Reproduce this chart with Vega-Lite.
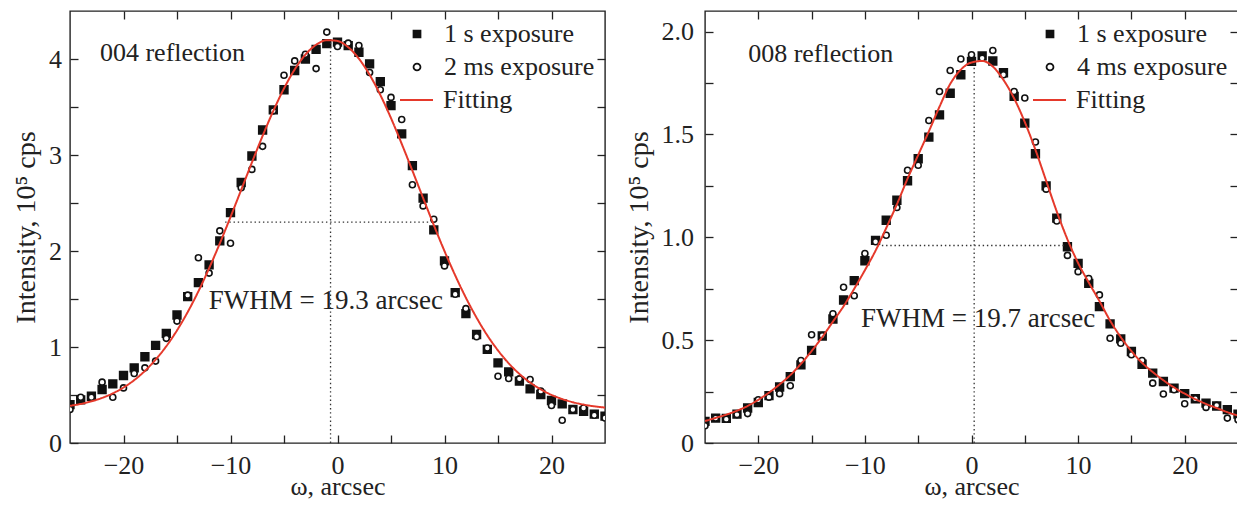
{
  "$schema": "https://vega.github.io/schema/vega-lite/v6.json",
  "background": "white",
  "padding": {"left": 11, "top": 9, "right": 0, "bottom": 0},
  "spacing": 100,
  "bounds": "flush",
  "resolve": {
    "scale": {"shape": "independent", "fill": "independent", "stroke": "independent", "strokeDash": "independent"},
    "legend": {"shape": "independent", "fill": "independent", "stroke": "independent", "strokeDash": "independent"}
  },
  "config": {
    "font": "Liberation Serif",
    "view": {"stroke": "#222", "strokeWidth": 1.4},
    "axis": {
      "grid": false, "domain": false,
      "tickColor": "#222", "tickWidth": 1.3, "tickSize": -8,
      "labelFont": "Liberation Serif", "labelFontSize": 26, "labelColor": "#222",
      "labelFlush": false, "labelOverlap": false,
      "titleFont": "Liberation Serif", "titleFontSize": 26, "titleFontWeight": "normal", "titleColor": "#222"
    },
    "axisLeft": {"titleFontSize": 28},
    "legend": {
      "orient": "top-right", "offset": 10, "padding": 0,
      "labelFont": "Liberation Serif", "labelFontSize": 26, "labelColor": "#222",
      "labelOffset": 5, "symbolStrokeWidth": 1.8, "rowPadding": 7,
      "layout": {"top-right": {"direction": "vertical", "margin": 2.5, "anchor": "start"}}
    }
  },
  "datasets": {
    "lp": [
      {"x": -25, "y": 0.40, "series": "1 s exposure"}, {"x": -24, "y": 0.45, "series": "1 s exposure"},
      {"x": -23, "y": 0.487, "series": "1 s exposure"}, {"x": -22, "y": 0.557, "series": "1 s exposure"},
      {"x": -21, "y": 0.616, "series": "1 s exposure"}, {"x": -20, "y": 0.703, "series": "1 s exposure"},
      {"x": -19, "y": 0.783, "series": "1 s exposure"}, {"x": -18, "y": 0.898, "series": "1 s exposure"},
      {"x": -17, "y": 1.017, "series": "1 s exposure"}, {"x": -16, "y": 1.142, "series": "1 s exposure"},
      {"x": -15, "y": 1.333, "series": "1 s exposure"}, {"x": -14, "y": 1.524, "series": "1 s exposure"},
      {"x": -13, "y": 1.67, "series": "1 s exposure"}, {"x": -12, "y": 1.855, "series": "1 s exposure"},
      {"x": -11, "y": 2.105, "series": "1 s exposure"}, {"x": -10, "y": 2.40, "series": "1 s exposure"},
      {"x": -9, "y": 2.714, "series": "1 s exposure"}, {"x": -8, "y": 2.99, "series": "1 s exposure"},
      {"x": -7, "y": 3.26, "series": "1 s exposure"}, {"x": -6, "y": 3.47, "series": "1 s exposure"},
      {"x": -5, "y": 3.68, "series": "1 s exposure"}, {"x": -4, "y": 3.88, "series": "1 s exposure"},
      {"x": -3, "y": 4.00, "series": "1 s exposure"}, {"x": -2, "y": 4.10, "series": "1 s exposure"},
      {"x": -1, "y": 4.16, "series": "1 s exposure"}, {"x": 0, "y": 4.175, "series": "1 s exposure"},
      {"x": 1, "y": 4.14, "series": "1 s exposure"}, {"x": 2, "y": 4.07, "series": "1 s exposure"},
      {"x": 3, "y": 3.95, "series": "1 s exposure"}, {"x": 4, "y": 3.765, "series": "1 s exposure"},
      {"x": 5, "y": 3.515, "series": "1 s exposure"}, {"x": 6, "y": 3.22, "series": "1 s exposure"},
      {"x": 7, "y": 2.89, "series": "1 s exposure"}, {"x": 8, "y": 2.55, "series": "1 s exposure"},
      {"x": 9, "y": 2.22, "series": "1 s exposure"}, {"x": 10, "y": 1.897, "series": "1 s exposure"},
      {"x": 11, "y": 1.566, "series": "1 s exposure"}, {"x": 12, "y": 1.347, "series": "1 s exposure"},
      {"x": 13, "y": 1.13, "series": "1 s exposure"}, {"x": 14, "y": 0.975, "series": "1 s exposure"},
      {"x": 15, "y": 0.835, "series": "1 s exposure"}, {"x": 16, "y": 0.741, "series": "1 s exposure"},
      {"x": 17, "y": 0.644, "series": "1 s exposure"}, {"x": 18, "y": 0.564, "series": "1 s exposure"},
      {"x": 19, "y": 0.505, "series": "1 s exposure"}, {"x": 20, "y": 0.443, "series": "1 s exposure"},
      {"x": 21, "y": 0.407, "series": "1 s exposure"}, {"x": 22, "y": 0.349, "series": "1 s exposure"},
      {"x": 23, "y": 0.331, "series": "1 s exposure"}, {"x": 24, "y": 0.30, "series": "1 s exposure"},
      {"x": 25, "y": 0.28, "series": "1 s exposure"},
      {"x": -25, "y": 0.35, "series": "2 ms exposure"}, {"x": -24, "y": 0.477, "series": "2 ms exposure"},
      {"x": -23, "y": 0.477, "series": "2 ms exposure"}, {"x": -22, "y": 0.634, "series": "2 ms exposure"},
      {"x": -21, "y": 0.477, "series": "2 ms exposure"}, {"x": -20, "y": 0.574, "series": "2 ms exposure"},
      {"x": -19, "y": 0.724, "series": "2 ms exposure"}, {"x": -18, "y": 0.783, "series": "2 ms exposure"},
      {"x": -17, "y": 0.853, "series": "2 ms exposure"}, {"x": -16, "y": 1.09, "series": "2 ms exposure"},
      {"x": -15, "y": 1.27, "series": "2 ms exposure"}, {"x": -14, "y": 1.54, "series": "2 ms exposure"},
      {"x": -13, "y": 1.93, "series": "2 ms exposure"}, {"x": -12, "y": 1.77, "series": "2 ms exposure"},
      {"x": -11, "y": 2.21, "series": "2 ms exposure"}, {"x": -10, "y": 2.08, "series": "2 ms exposure"},
      {"x": -9, "y": 2.66, "series": "2 ms exposure"}, {"x": -8, "y": 2.85, "series": "2 ms exposure"},
      {"x": -7, "y": 3.09, "series": "2 ms exposure"}, {"x": -6, "y": 3.46, "series": "2 ms exposure"},
      {"x": -5, "y": 3.83, "series": "2 ms exposure"}, {"x": -4, "y": 3.98, "series": "2 ms exposure"},
      {"x": -3, "y": 4.05, "series": "2 ms exposure"}, {"x": -2, "y": 3.90, "series": "2 ms exposure"},
      {"x": -1, "y": 4.28, "series": "2 ms exposure"}, {"x": 0, "y": 4.13, "series": "2 ms exposure"},
      {"x": 1, "y": 4.165, "series": "2 ms exposure"}, {"x": 2, "y": 4.14, "series": "2 ms exposure"},
      {"x": 3, "y": 3.86, "series": "2 ms exposure"}, {"x": 4, "y": 3.68, "series": "2 ms exposure"},
      {"x": 5, "y": 3.60, "series": "2 ms exposure"}, {"x": 6, "y": 3.37, "series": "2 ms exposure"},
      {"x": 7, "y": 2.69, "series": "2 ms exposure"}, {"x": 8, "y": 2.47, "series": "2 ms exposure"},
      {"x": 9, "y": 2.33, "series": "2 ms exposure"}, {"x": 10, "y": 1.845, "series": "2 ms exposure"},
      {"x": 11, "y": 1.55, "series": "2 ms exposure"}, {"x": 12, "y": 1.40, "series": "2 ms exposure"},
      {"x": 13, "y": 1.107, "series": "2 ms exposure"}, {"x": 14, "y": 0.99, "series": "2 ms exposure"},
      {"x": 15, "y": 0.696, "series": "2 ms exposure"}, {"x": 16, "y": 0.672, "series": "2 ms exposure"},
      {"x": 17, "y": 0.668, "series": "2 ms exposure"}, {"x": 18, "y": 0.662, "series": "2 ms exposure"},
      {"x": 19, "y": 0.54, "series": "2 ms exposure"}, {"x": 20, "y": 0.39, "series": "2 ms exposure"},
      {"x": 21, "y": 0.237, "series": "2 ms exposure"}, {"x": 22, "y": 0.349, "series": "2 ms exposure"},
      {"x": 23, "y": 0.365, "series": "2 ms exposure"}, {"x": 24, "y": 0.289, "series": "2 ms exposure"},
      {"x": 25, "y": 0.261, "series": "2 ms exposure"}
    ],
    "lf": [
      {"x": -25, "y": 0.387, "series": "Fitting"}, {"x": -24, "y": 0.407, "series": "Fitting"},
      {"x": -23, "y": 0.434, "series": "Fitting"}, {"x": -22, "y": 0.470, "series": "Fitting"},
      {"x": -21, "y": 0.517, "series": "Fitting"}, {"x": -20, "y": 0.578, "series": "Fitting"},
      {"x": -19, "y": 0.655, "series": "Fitting"}, {"x": -18, "y": 0.751, "series": "Fitting"},
      {"x": -17, "y": 0.868, "series": "Fitting"}, {"x": -16, "y": 1.008, "series": "Fitting"},
      {"x": -15, "y": 1.173, "series": "Fitting"}, {"x": -14, "y": 1.364, "series": "Fitting"},
      {"x": -13, "y": 1.580, "series": "Fitting"}, {"x": -12, "y": 1.820, "series": "Fitting"},
      {"x": -11, "y": 2.079, "series": "Fitting"}, {"x": -10, "y": 2.354, "series": "Fitting"},
      {"x": -9, "y": 2.637, "series": "Fitting"}, {"x": -8, "y": 2.922, "series": "Fitting"},
      {"x": -7, "y": 3.199, "series": "Fitting"}, {"x": -6, "y": 3.459, "series": "Fitting"},
      {"x": -5, "y": 3.693, "series": "Fitting"}, {"x": -4, "y": 3.891, "series": "Fitting"},
      {"x": -3, "y": 4.045, "series": "Fitting"}, {"x": -2, "y": 4.148, "series": "Fitting"},
      {"x": -1, "y": 4.196, "series": "Fitting"}, {"x": 0, "y": 4.188, "series": "Fitting"},
      {"x": 1, "y": 4.123, "series": "Fitting"}, {"x": 2, "y": 4.003, "series": "Fitting"},
      {"x": 3, "y": 3.836, "series": "Fitting"}, {"x": 4, "y": 3.626, "series": "Fitting"},
      {"x": 5, "y": 3.384, "series": "Fitting"}, {"x": 6, "y": 3.117, "series": "Fitting"},
      {"x": 7, "y": 2.837, "series": "Fitting"}, {"x": 8, "y": 2.552, "series": "Fitting"},
      {"x": 9, "y": 2.270, "series": "Fitting"}, {"x": 10, "y": 1.999, "series": "Fitting"},
      {"x": 11, "y": 1.746, "series": "Fitting"}, {"x": 12, "y": 1.513, "series": "Fitting"},
      {"x": 13, "y": 1.305, "series": "Fitting"}, {"x": 14, "y": 1.121, "series": "Fitting"},
      {"x": 15, "y": 0.964, "series": "Fitting"}, {"x": 16, "y": 0.830, "series": "Fitting"},
      {"x": 17, "y": 0.720, "series": "Fitting"}, {"x": 18, "y": 0.630, "series": "Fitting"},
      {"x": 19, "y": 0.558, "series": "Fitting"}, {"x": 20, "y": 0.501, "series": "Fitting"},
      {"x": 21, "y": 0.458, "series": "Fitting"}, {"x": 22, "y": 0.425, "series": "Fitting"},
      {"x": 23, "y": 0.400, "series": "Fitting"}, {"x": 24, "y": 0.382, "series": "Fitting"},
      {"x": 25, "y": 0.369, "series": "Fitting"}
    ],
    "rp": [
      {"x": -25, "y": 0.105, "series": "1 s exposure"}, {"x": -24, "y": 0.121, "series": "1 s exposure"},
      {"x": -23, "y": 0.12, "series": "1 s exposure"}, {"x": -22, "y": 0.14, "series": "1 s exposure"},
      {"x": -21, "y": 0.17, "series": "1 s exposure"}, {"x": -20, "y": 0.197, "series": "1 s exposure"},
      {"x": -19, "y": 0.23, "series": "1 s exposure"}, {"x": -18, "y": 0.272, "series": "1 s exposure"},
      {"x": -17, "y": 0.323, "series": "1 s exposure"}, {"x": -16, "y": 0.38, "series": "1 s exposure"},
      {"x": -15, "y": 0.45, "series": "1 s exposure"}, {"x": -14, "y": 0.52, "series": "1 s exposure"},
      {"x": -13, "y": 0.603, "series": "1 s exposure"}, {"x": -12, "y": 0.695, "series": "1 s exposure"},
      {"x": -11, "y": 0.789, "series": "1 s exposure"}, {"x": -10, "y": 0.886, "series": "1 s exposure"},
      {"x": -9, "y": 0.985, "series": "1 s exposure"}, {"x": -8, "y": 1.083, "series": "1 s exposure"},
      {"x": -7, "y": 1.18, "series": "1 s exposure"}, {"x": -6, "y": 1.275, "series": "1 s exposure"},
      {"x": -5, "y": 1.382, "series": "1 s exposure"}, {"x": -4, "y": 1.487, "series": "1 s exposure"},
      {"x": -3, "y": 1.595, "series": "1 s exposure"}, {"x": -2, "y": 1.70, "series": "1 s exposure"},
      {"x": -1, "y": 1.79, "series": "1 s exposure"}, {"x": 0, "y": 1.855, "series": "1 s exposure"},
      {"x": 1, "y": 1.882, "series": "1 s exposure"}, {"x": 2, "y": 1.857, "series": "1 s exposure"},
      {"x": 3, "y": 1.80, "series": "1 s exposure"}, {"x": 4, "y": 1.685, "series": "1 s exposure"},
      {"x": 5, "y": 1.555, "series": "1 s exposure"}, {"x": 6, "y": 1.406, "series": "1 s exposure"},
      {"x": 7, "y": 1.25, "series": "1 s exposure"}, {"x": 8, "y": 1.093, "series": "1 s exposure"},
      {"x": 9, "y": 0.954, "series": "1 s exposure"}, {"x": 10, "y": 0.873, "series": "1 s exposure"},
      {"x": 11, "y": 0.776, "series": "1 s exposure"}, {"x": 12, "y": 0.663, "series": "1 s exposure"},
      {"x": 13, "y": 0.579, "series": "1 s exposure"}, {"x": 14, "y": 0.506, "series": "1 s exposure"},
      {"x": 15, "y": 0.445, "series": "1 s exposure"}, {"x": 16, "y": 0.383, "series": "1 s exposure"},
      {"x": 17, "y": 0.34, "series": "1 s exposure"}, {"x": 18, "y": 0.299, "series": "1 s exposure"},
      {"x": 19, "y": 0.267, "series": "1 s exposure"}, {"x": 20, "y": 0.24, "series": "1 s exposure"},
      {"x": 21, "y": 0.215, "series": "1 s exposure"}, {"x": 22, "y": 0.194, "series": "1 s exposure"},
      {"x": 23, "y": 0.18, "series": "1 s exposure"}, {"x": 24, "y": 0.162, "series": "1 s exposure"},
      {"x": 25, "y": 0.14, "series": "1 s exposure"},
      {"x": -25, "y": 0.084, "series": "4 ms exposure"}, {"x": -24, "y": 0.121, "series": "4 ms exposure"},
      {"x": -23, "y": 0.116, "series": "4 ms exposure"}, {"x": -22, "y": 0.138, "series": "4 ms exposure"},
      {"x": -21, "y": 0.143, "series": "4 ms exposure"}, {"x": -20, "y": 0.21, "series": "4 ms exposure"},
      {"x": -19, "y": 0.223, "series": "4 ms exposure"}, {"x": -18, "y": 0.24, "series": "4 ms exposure"},
      {"x": -17, "y": 0.278, "series": "4 ms exposure"}, {"x": -16, "y": 0.401, "series": "4 ms exposure"},
      {"x": -15, "y": 0.526, "series": "4 ms exposure"}, {"x": -14, "y": 0.522, "series": "4 ms exposure"},
      {"x": -13, "y": 0.628, "series": "4 ms exposure"}, {"x": -12, "y": 0.757, "series": "4 ms exposure"},
      {"x": -11, "y": 0.716, "series": "4 ms exposure"}, {"x": -10, "y": 0.921, "series": "4 ms exposure"},
      {"x": -9, "y": 0.978, "series": "4 ms exposure"}, {"x": -8, "y": 1.01, "series": "4 ms exposure"},
      {"x": -7, "y": 1.145, "series": "4 ms exposure"}, {"x": -6, "y": 1.326, "series": "4 ms exposure"},
      {"x": -5, "y": 1.35, "series": "4 ms exposure"}, {"x": -4, "y": 1.568, "series": "4 ms exposure"},
      {"x": -3, "y": 1.709, "series": "4 ms exposure"}, {"x": -2, "y": 1.811, "series": "4 ms exposure"},
      {"x": -1, "y": 1.867, "series": "4 ms exposure"}, {"x": 0, "y": 1.887, "series": "4 ms exposure"},
      {"x": 1, "y": 1.871, "series": "4 ms exposure"}, {"x": 2, "y": 1.908, "series": "4 ms exposure"},
      {"x": 3, "y": 1.79, "series": "4 ms exposure"}, {"x": 4, "y": 1.709, "series": "4 ms exposure"},
      {"x": 5, "y": 1.677, "series": "4 ms exposure"}, {"x": 6, "y": 1.463, "series": "4 ms exposure"},
      {"x": 7, "y": 1.234, "series": "4 ms exposure"}, {"x": 8, "y": 1.079, "series": "4 ms exposure"},
      {"x": 9, "y": 0.912, "series": "4 ms exposure"}, {"x": 10, "y": 0.833, "series": "4 ms exposure"},
      {"x": 11, "y": 0.80, "series": "4 ms exposure"}, {"x": 12, "y": 0.72, "series": "4 ms exposure"},
      {"x": 13, "y": 0.509, "series": "4 ms exposure"}, {"x": 14, "y": 0.485, "series": "4 ms exposure"},
      {"x": 15, "y": 0.429, "series": "4 ms exposure"}, {"x": 16, "y": 0.401, "series": "4 ms exposure"},
      {"x": 17, "y": 0.291, "series": "4 ms exposure"}, {"x": 18, "y": 0.238, "series": "4 ms exposure"},
      {"x": 19, "y": 0.259, "series": "4 ms exposure"}, {"x": 20, "y": 0.191, "series": "4 ms exposure"},
      {"x": 21, "y": 0.215, "series": "4 ms exposure"}, {"x": 22, "y": 0.173, "series": "4 ms exposure"},
      {"x": 23, "y": 0.183, "series": "4 ms exposure"}, {"x": 24, "y": 0.121, "series": "4 ms exposure"},
      {"x": 25, "y": 0.113, "series": "4 ms exposure"}
    ],
    "rf": [
      {"x": -25, "y": 0.107, "series": "Fitting"}, {"x": -24, "y": 0.122, "series": "Fitting"},
      {"x": -23, "y": 0.138, "series": "Fitting"}, {"x": -22, "y": 0.157, "series": "Fitting"},
      {"x": -21, "y": 0.18, "series": "Fitting"}, {"x": -20, "y": 0.21, "series": "Fitting"},
      {"x": -19, "y": 0.245, "series": "Fitting"}, {"x": -18, "y": 0.285, "series": "Fitting"},
      {"x": -17, "y": 0.33, "series": "Fitting"}, {"x": -16, "y": 0.385, "series": "Fitting"},
      {"x": -15, "y": 0.447, "series": "Fitting"}, {"x": -14, "y": 0.515, "series": "Fitting"},
      {"x": -13, "y": 0.59, "series": "Fitting"}, {"x": -12, "y": 0.665, "series": "Fitting"},
      {"x": -11, "y": 0.75, "series": "Fitting"}, {"x": -10, "y": 0.84, "series": "Fitting"},
      {"x": -9, "y": 0.935, "series": "Fitting"}, {"x": -8, "y": 1.045, "series": "Fitting"},
      {"x": -7, "y": 1.16, "series": "Fitting"}, {"x": -6, "y": 1.285, "series": "Fitting"},
      {"x": -5, "y": 1.40, "series": "Fitting"}, {"x": -4, "y": 1.515, "series": "Fitting"},
      {"x": -3, "y": 1.635, "series": "Fitting"}, {"x": -2, "y": 1.745, "series": "Fitting"},
      {"x": -1, "y": 1.815, "series": "Fitting"}, {"x": 0, "y": 1.85, "series": "Fitting"},
      {"x": 1, "y": 1.857, "series": "Fitting"}, {"x": 2, "y": 1.83, "series": "Fitting"},
      {"x": 3, "y": 1.765, "series": "Fitting"}, {"x": 4, "y": 1.675, "series": "Fitting"},
      {"x": 5, "y": 1.56, "series": "Fitting"}, {"x": 6, "y": 1.425, "series": "Fitting"},
      {"x": 7, "y": 1.275, "series": "Fitting"}, {"x": 8, "y": 1.125, "series": "Fitting"},
      {"x": 9, "y": 0.99, "series": "Fitting"}, {"x": 10, "y": 0.875, "series": "Fitting"},
      {"x": 11, "y": 0.78, "series": "Fitting"}, {"x": 12, "y": 0.69, "series": "Fitting"},
      {"x": 13, "y": 0.595, "series": "Fitting"}, {"x": 14, "y": 0.515, "series": "Fitting"},
      {"x": 15, "y": 0.447, "series": "Fitting"}, {"x": 16, "y": 0.39, "series": "Fitting"},
      {"x": 17, "y": 0.345, "series": "Fitting"}, {"x": 18, "y": 0.305, "series": "Fitting"},
      {"x": 19, "y": 0.27, "series": "Fitting"}, {"x": 20, "y": 0.24, "series": "Fitting"},
      {"x": 21, "y": 0.213, "series": "Fitting"}, {"x": 22, "y": 0.19, "series": "Fitting"},
      {"x": 23, "y": 0.17, "series": "Fitting"}, {"x": 24, "y": 0.15, "series": "Fitting"},
      {"x": 25, "y": 0.133, "series": "Fitting"}
    ]
  },
  "hconcat": [
    {
      "width": 535, "height": 432,
      "resolve": {"axis": {"x": "independent", "y": "independent"}},
      "layer": [
        {
          "data": {"name": "lp"},
          "transform": [{"filter": "datum.series === '1 s exposure'"}],
          "mark": {"type": "point", "opacity": 1, "strokeWidth": 1.6, "size": 60, "clip": true},
          "encoding": {
            "x": {"field": "x", "type": "quantitative", "scale": {"domain": [-25, 25], "nice": false},
              "axis": {"orient": "bottom", "title": "ω, arcsec", "values": [-20, -15, -10, -5, 0, 5, 10, 15, 20],
                "labelExpr": "datum.value % 10 === 0 ? format(datum.value, 'd') : ''", "labelPadding": 17.3, "titlePadding": -5}},
            "y": {"field": "y", "type": "quantitative", "scale": {"domain": [0, 4.5], "nice": false},
              "axis": {"orient": "left", "title": "Intensity, 10⁵ cps", "values": [0, 0.5, 1, 1.5, 2, 2.5, 3, 3.5, 4],
                "labelExpr": "datum.value % 1 === 0 ? format(datum.value, 'd') : ''", "labelPadding": 16.5, "titlePadding": 8}},
            "shape": {"field": "series", "type": "nominal",
              "scale": {"domain": ["1 s exposure", "2 ms exposure"], "range": ["square", "circle"]},
              "legend": {"title": null, "symbolSize": 48, "labelOffset": 14, "symbolOffset": 5}},
            "fill": {"field": "series", "type": "nominal",
              "scale": {"domain": ["1 s exposure", "2 ms exposure"], "range": ["#111111", "#ffffff"]},
              "legend": {"title": null, "symbolSize": 48, "labelOffset": 14, "symbolOffset": 5}},
            "stroke": {"field": "series", "type": "nominal",
              "scale": {"domain": ["1 s exposure", "2 ms exposure"], "range": ["#111111", "#111111"]},
              "legend": {"title": null, "symbolSize": 48, "labelOffset": 14, "symbolOffset": 5}}
          }
        },
        {
          "data": {"values": [{}]},
          "mark": {"type": "rule", "strokeDash": [1.4, 2.8], "color": "#333", "strokeWidth": 1.3},
          "encoding": {
            "x": {"datum": -0.65, "type": "quantitative", "scale": {"domain": [-25, 25], "nice": false}, "axis": null},
            "y": {"datum": 0, "type": "quantitative", "scale": {"domain": [0, 4.5], "nice": false}, "axis": null},
            "y2": {"datum": 4.2}
          }
        },
        {
          "data": {"values": [{}]},
          "mark": {"type": "rule", "strokeDash": [1.4, 2.8], "color": "#333", "strokeWidth": 1.3},
          "encoding": {
            "x": {"datum": -10.5, "type": "quantitative", "scale": {"domain": [-25, 25], "nice": false}, "axis": null},
            "x2": {"datum": 8.95},
            "y": {"datum": 2.3, "type": "quantitative", "scale": {"domain": [0, 4.5], "nice": false}, "axis": null}
          }
        },
        {
          "data": {"name": "lp"},
          "transform": [{"filter": "datum.series === '2 ms exposure'"}],
          "mark": {"type": "point", "opacity": 1, "strokeWidth": 1.6, "size": 36, "clip": true},
          "encoding": {
            "x": {"field": "x", "type": "quantitative", "scale": {"domain": [-25, 25], "nice": false}, "axis": null},
            "y": {"field": "y", "type": "quantitative", "scale": {"domain": [0, 4.5], "nice": false}, "axis": null},
            "shape": {"field": "series", "type": "nominal"},
            "fill": {"field": "series", "type": "nominal"},
            "stroke": {"field": "series", "type": "nominal"}
          }
        },
        {
          "data": {"name": "lf"},
          "mark": {"type": "line", "strokeWidth": 2, "color": "#e5392b", "clip": true, "interpolate": "monotone"},
          "encoding": {
            "x": {"field": "x", "type": "quantitative", "scale": {"domain": [-25, 25], "nice": false}, "axis": null},
            "y": {"field": "y", "type": "quantitative", "scale": {"domain": [0, 4.5], "nice": false}, "axis": null},
            "strokeDash": {"field": "series", "type": "nominal",
              "scale": {"domain": ["Fitting"], "range": [[1, 0]]},
              "legend": {"title": null, "symbolType": "stroke", "symbolSize": 1089, "symbolStrokeWidth": 2, "labelOffset": 9}}
          }
        },
        {
          "data": {"values": [{}]},
          "mark": {"type": "text", "align": "left", "baseline": "middle", "fontSize": 26, "font": "Liberation Serif", "color": "#222"},
          "encoding": {
            "x": {"datum": -22.2, "type": "quantitative", "scale": {"domain": [-25, 25], "nice": false}, "axis": null},
            "y": {"datum": 4.066, "type": "quantitative", "scale": {"domain": [0, 4.5], "nice": false}, "axis": null},
            "text": {"value": "004 reflection"}
          }
        },
        {
          "data": {"values": [{}]},
          "mark": {"type": "text", "align": "left", "baseline": "middle", "fontSize": 27, "font": "Liberation Serif", "color": "#222"},
          "encoding": {
            "x": {"datum": -12.03, "type": "quantitative", "scale": {"domain": [-25, 25], "nice": false}, "axis": null},
            "y": {"datum": 1.48, "type": "quantitative", "scale": {"domain": [0, 4.5], "nice": false}, "axis": null},
            "text": {"value": "FWHM = 19.3 arcsec"}
          }
        },
        {
          "data": {"name": "lf"},
          "mark": {"type": "point", "opacity": 0},
          "encoding": {
            "x": {"field": "x", "type": "quantitative", "scale": {"domain": [-25, 25], "nice": false},
              "axis": {"orient": "top", "title": null, "labels": false, "values": [-20, -15, -10, -5, 0, 5, 10, 15, 20]}},
            "y": {"field": "y", "type": "quantitative", "scale": {"domain": [0, 4.5], "nice": false},
              "axis": {"orient": "right", "title": null, "labels": false, "values": [0.5, 1, 1.5, 2, 2.5, 3, 3.5, 4]}}
          }
        }
      ]
    },
    {
      "width": 533, "height": 432,
      "resolve": {"axis": {"x": "independent", "y": "independent"}},
      "layer": [
        {
          "data": {"name": "rp"},
          "transform": [{"filter": "datum.series === '1 s exposure'"}],
          "mark": {"type": "point", "opacity": 1, "strokeWidth": 1.6, "size": 60, "clip": true},
          "encoding": {
            "x": {"field": "x", "type": "quantitative", "scale": {"domain": [-25, 25], "nice": false},
              "axis": {"orient": "bottom", "title": "ω, arcsec", "values": [-20, -15, -10, -5, 0, 5, 10, 15, 20],
                "labelExpr": "datum.value % 10 === 0 ? format(datum.value, 'd') : ''", "labelPadding": 17.3, "titlePadding": -5}},
            "y": {"field": "y", "type": "quantitative", "scale": {"domain": [0, 2.1], "nice": false},
              "axis": {"orient": "left", "title": "Intensity, 10⁵ cps", "values": [0, 0.25, 0.5, 0.75, 1, 1.25, 1.5, 1.75, 2],
                "labelExpr": "datum.value === 0 ? '0' : ((datum.value * 2) % 1 === 0 ? format(datum.value, '.1f') : '')",
                "labelPadding": 19.5, "titlePadding": 8}},
            "shape": {"field": "series", "type": "nominal",
              "scale": {"domain": ["1 s exposure", "4 ms exposure"], "range": ["square", "circle"]},
              "legend": {"title": null, "symbolSize": 48, "labelOffset": 14, "symbolOffset": 5}},
            "fill": {"field": "series", "type": "nominal",
              "scale": {"domain": ["1 s exposure", "4 ms exposure"], "range": ["#111111", "#ffffff"]},
              "legend": {"title": null, "symbolSize": 48, "labelOffset": 14, "symbolOffset": 5}},
            "stroke": {"field": "series", "type": "nominal",
              "scale": {"domain": ["1 s exposure", "4 ms exposure"], "range": ["#111111", "#111111"]},
              "legend": {"title": null, "symbolSize": 48, "labelOffset": 14, "symbolOffset": 5}}
          }
        },
        {
          "data": {"values": [{}]},
          "mark": {"type": "rule", "strokeDash": [1.4, 2.8], "color": "#333", "strokeWidth": 1.3},
          "encoding": {
            "x": {"datum": 0.25, "type": "quantitative", "scale": {"domain": [-25, 25], "nice": false}, "axis": null},
            "y": {"datum": 0, "type": "quantitative", "scale": {"domain": [0, 2.1], "nice": false}, "axis": null},
            "y2": {"datum": 1.855}
          }
        },
        {
          "data": {"values": [{}]},
          "mark": {"type": "rule", "strokeDash": [1.4, 2.8], "color": "#333", "strokeWidth": 1.3},
          "encoding": {
            "x": {"datum": -8.8, "type": "quantitative", "scale": {"domain": [-25, 25], "nice": false}, "axis": null},
            "x2": {"datum": 8.85},
            "y": {"datum": 0.96, "type": "quantitative", "scale": {"domain": [0, 2.1], "nice": false}, "axis": null}
          }
        },
        {
          "data": {"name": "rp"},
          "transform": [{"filter": "datum.series === '4 ms exposure'"}],
          "mark": {"type": "point", "opacity": 1, "strokeWidth": 1.6, "size": 36, "clip": true},
          "encoding": {
            "x": {"field": "x", "type": "quantitative", "scale": {"domain": [-25, 25], "nice": false}, "axis": null},
            "y": {"field": "y", "type": "quantitative", "scale": {"domain": [0, 2.1], "nice": false}, "axis": null},
            "shape": {"field": "series", "type": "nominal"},
            "fill": {"field": "series", "type": "nominal"},
            "stroke": {"field": "series", "type": "nominal"}
          }
        },
        {
          "data": {"name": "rf"},
          "mark": {"type": "line", "strokeWidth": 2, "color": "#e5392b", "clip": true, "interpolate": "monotone"},
          "encoding": {
            "x": {"field": "x", "type": "quantitative", "scale": {"domain": [-25, 25], "nice": false}, "axis": null},
            "y": {"field": "y", "type": "quantitative", "scale": {"domain": [0, 2.1], "nice": false}, "axis": null},
            "strokeDash": {"field": "series", "type": "nominal",
              "scale": {"domain": ["Fitting"], "range": [[1, 0]]},
              "legend": {"title": null, "symbolType": "stroke", "symbolSize": 1089, "symbolStrokeWidth": 2, "labelOffset": 9}}
          }
        },
        {
          "data": {"values": [{}]},
          "mark": {"type": "text", "align": "left", "baseline": "middle", "fontSize": 26, "font": "Liberation Serif", "color": "#222"},
          "encoding": {
            "x": {"datum": -20.95, "type": "quantitative", "scale": {"domain": [-25, 25], "nice": false}, "axis": null},
            "y": {"datum": 1.889, "type": "quantitative", "scale": {"domain": [0, 2.1], "nice": false}, "axis": null},
            "text": {"value": "008 reflection"}
          }
        },
        {
          "data": {"values": [{}]},
          "mark": {"type": "text", "align": "left", "baseline": "middle", "fontSize": 27, "font": "Liberation Serif", "color": "#222"},
          "encoding": {
            "x": {"datum": -10.37, "type": "quantitative", "scale": {"domain": [-25, 25], "nice": false}, "axis": null},
            "y": {"datum": 0.604, "type": "quantitative", "scale": {"domain": [0, 2.1], "nice": false}, "axis": null},
            "text": {"value": "FWHM = 19.7 arcsec"}
          }
        },
        {
          "data": {"name": "rf"},
          "mark": {"type": "point", "opacity": 0},
          "encoding": {
            "x": {"field": "x", "type": "quantitative", "scale": {"domain": [-25, 25], "nice": false},
              "axis": {"orient": "top", "title": null, "labels": false, "values": [-20, -15, -10, -5, 0, 5, 10, 15, 20]}},
            "y": {"field": "y", "type": "quantitative", "scale": {"domain": [0, 2.1], "nice": false},
              "axis": {"orient": "right", "title": null, "labels": false, "values": [0.25, 0.5, 0.75, 1, 1.25, 1.5, 1.75, 2]}}
          }
        }
      ]
    }
  ]
}
